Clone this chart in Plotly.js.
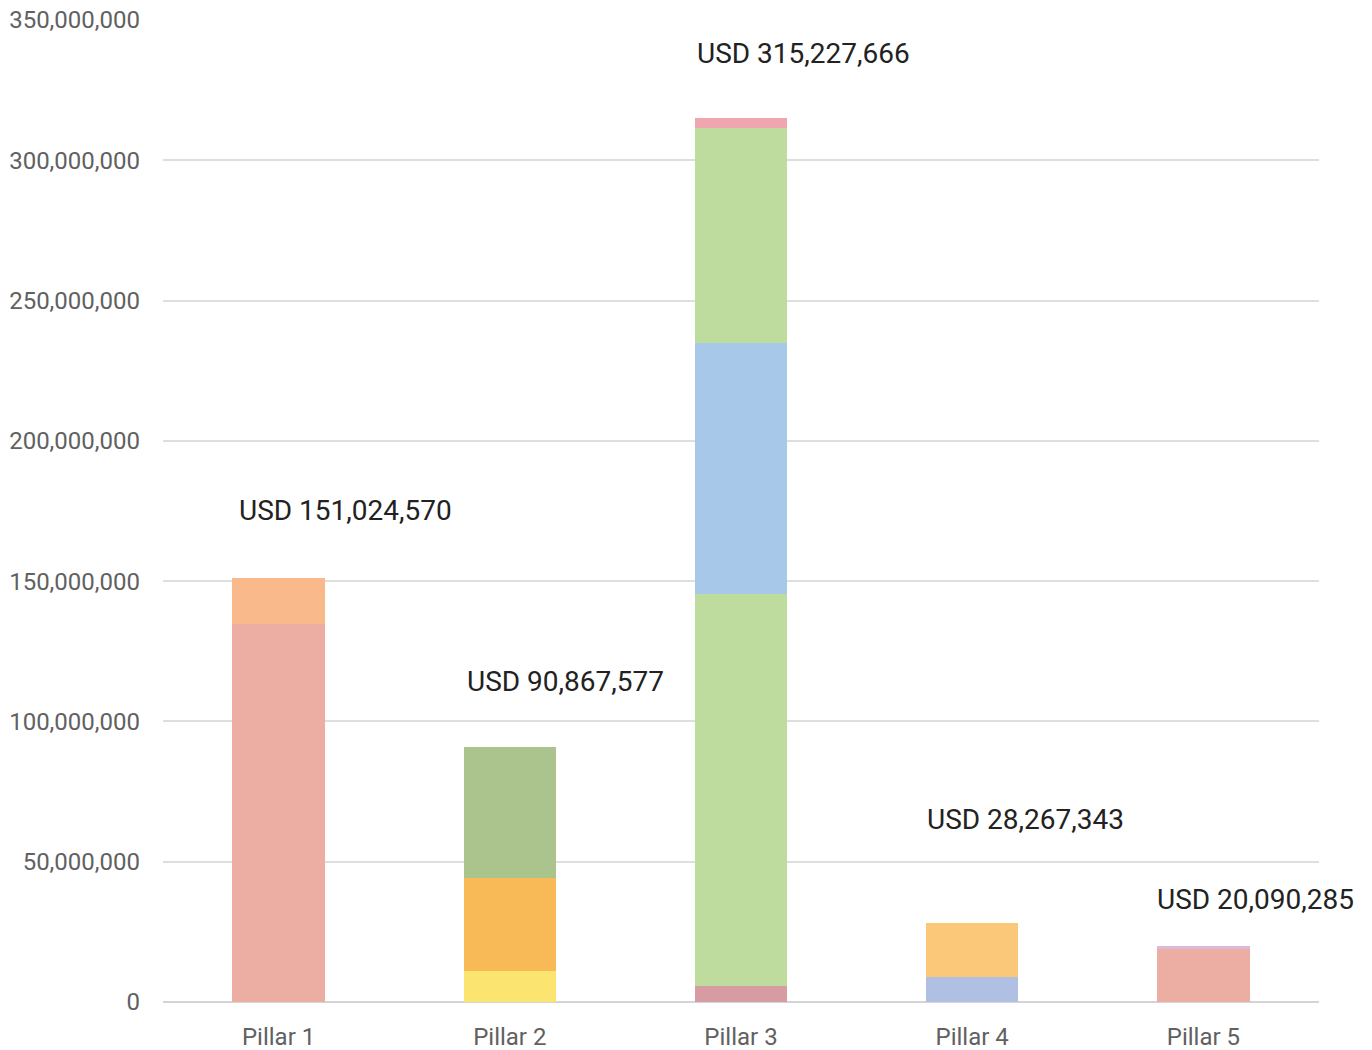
<!DOCTYPE html>
<html>
<head>
<meta charset="utf-8">
<script src="https://cdn.plot.ly/plotly-3.0.1.min.js"></script>
<style>html,body{margin:0;padding:0;background:#fff;}#chart{width:1372px;height:1050px;}</style>
</head>
<body>
<div id="chart"></div>
<script>
var categories = ["Pillar 1", "Pillar 2", "Pillar 3", "Pillar 4", "Pillar 5"];
var totalLabels = ["USD 151,024,570", "USD 90,867,577", "USD 315,227,666", "USD 28,267,343", "USD 20,090,285"];

// stacked segments, bottom to top (USD)
var seg1 = [134700000, 11200000, 5700000, 9000000, 18900000];
var seg2 = [16324570, 33000000, 139700000, 19267343, 1190285];
var seg3 = [null, 46667577, 89500000, null, null];
var seg4 = [null, null, 76627666, null, null];
var seg5 = [null, null, 3700000, null, null];

var col1 = ["#ECADA3", "#FBE46F", "#D69CA2", "#B0C0E2", "#ECADA3"];
var col2 = ["#F9B98A", "#F7BA56", "#BFDC9F", "#FAC878", "#DDB8DC"];
var col3 = ["#ECADA3", "#ABC38C", "#A8C8E9", "#ECADA3", "#ECADA3"];
var col4 = ["#BFDC9F", "#BFDC9F", "#BFDC9F", "#BFDC9F", "#BFDC9F"];
var col5 = ["#F0A6AF", "#F0A6AF", "#F0A6AF", "#F0A6AF", "#F0A6AF"];

var segs = [seg1, seg2, seg3, seg4, seg5];
var cols = [col1, col2, col3, col4, col5];

var traces = segs.map(function (s, i) {
  return {
    type: "bar",
    x: categories,
    y: s,
    marker: { color: cols[i], line: { width: 0 } },
    hoverinfo: "x+y",
    showlegend: false
  };
});

var labelY = [175200000, 114400000, 337900000, 64900000, 36400000];
var labelShift = [5, 1, 0, -1, -2];
var annotations = categories.map(function (c, i) {
  return {
    x: i - 0.2,
    y: labelY[i],
    xref: "x",
    yref: "y",
    text: totalLabels[i],
    showarrow: false,
    xanchor: "left",
    yanchor: "middle",
    xshift: labelShift[i],
    font: { family: "Roboto", size: 28, color: "#222222" }
  };
});

var layout = {
  width: 1372,
  height: 1050,
  margin: { l: 163, r: 53, t: 20, b: 48 },
  paper_bgcolor: "#ffffff",
  plot_bgcolor: "#ffffff",
  barmode: "stack",
  bargap: 0.6,
  font: { family: "Roboto", size: 24, color: "#616161" },
  xaxis: {
    type: "category",
    range: [-0.5, 4.5],
    autorange: false,
    showgrid: false,
    showline: false,
    zeroline: false,
    ticks: "",
    ticklabelstandoff: 18,
    tickfont: { family: "Roboto", size: 24, color: "#616161" }
  },
  yaxis: {
    range: [0, 350000000],
    autorange: false,
    dtick: 50000000,
    tick0: 0,
    tickformat: ",d",
    showgrid: true,
    gridcolor: "#dedede",
    gridwidth: 2,
    zeroline: true,
    zerolinecolor: "#d4d4d4",
    zerolinewidth: 2,
    showline: false,
    ticks: "",
    ticklabelstandoff: 22,
    tickfont: { family: "Roboto", size: 24, color: "#616161" }
  },
  annotations: annotations
};

Plotly.newPlot("chart", traces, layout, { displayModeBar: false, staticPlot: true });
</script>
</body>
</html>
